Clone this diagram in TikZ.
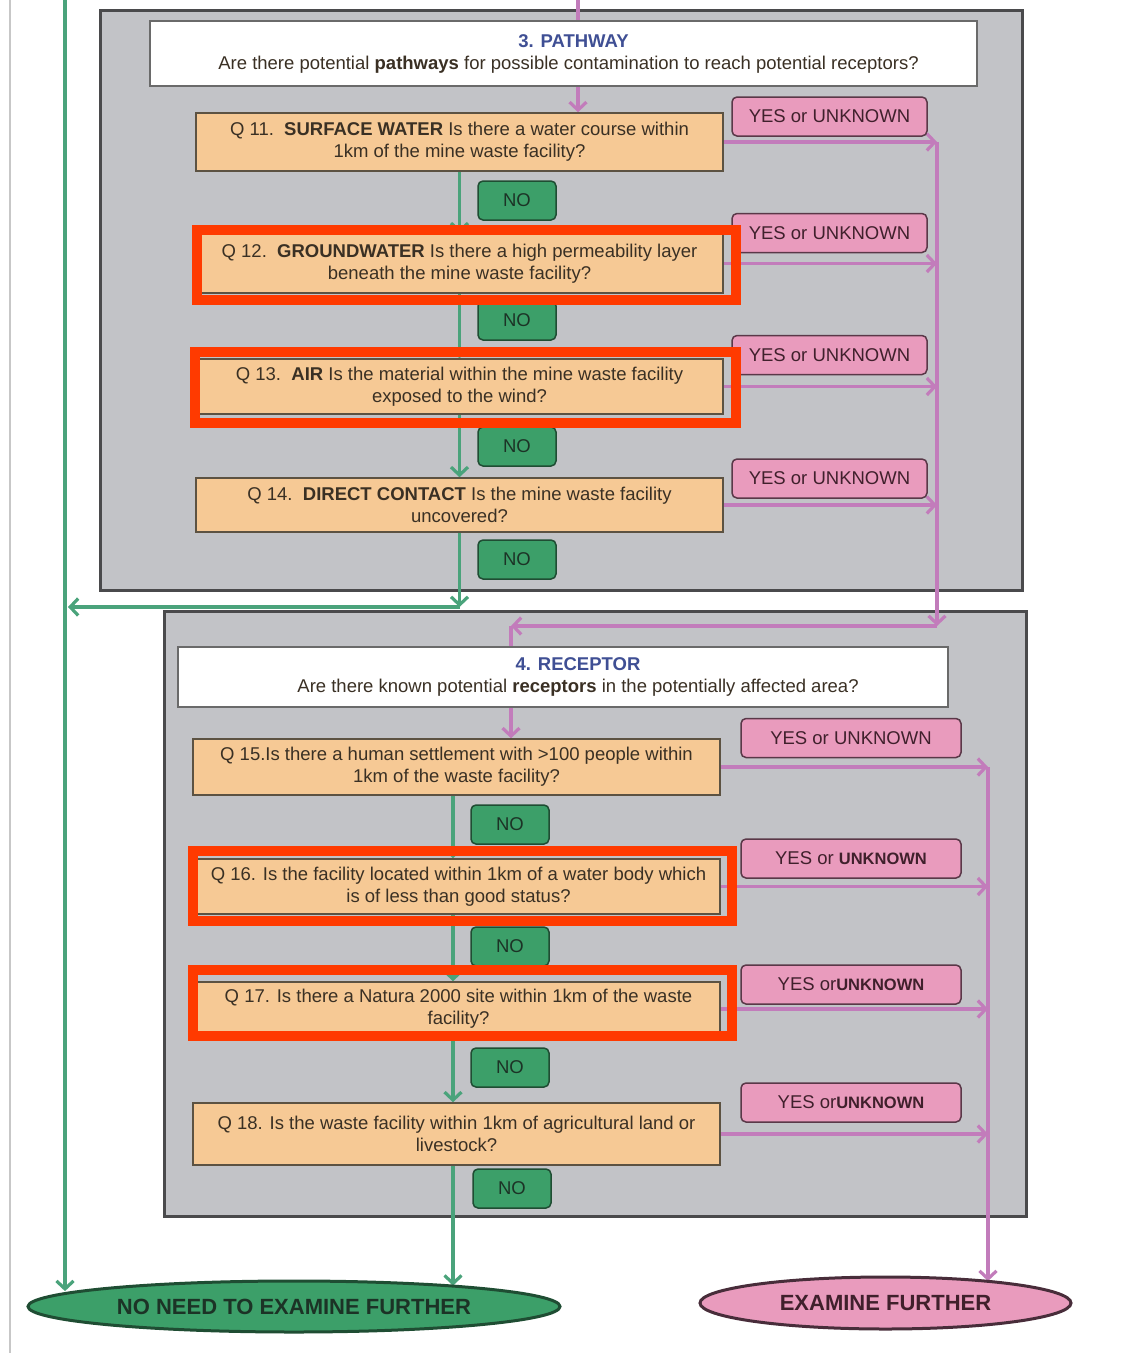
\documentclass[tikz,border=0pt]{standalone}
\usepackage{fontspec}
\setmainfont{Liberation Sans}
\usetikzlibrary{arrows.meta,shapes.geometric,backgrounds}

\definecolor{panelgray}{HTML}{C2C3C7}
\definecolor{panelline}{HTML}{4A4A4C}
\definecolor{headline}{HTML}{6A6A6A}
\definecolor{titleblue}{HTML}{3F4F94}
\definecolor{peach}{HTML}{F6C995}
\definecolor{qline}{HTML}{5C5242}
\definecolor{qtext}{HTML}{3A3024}
\definecolor{yespink}{HTML}{E99BBD}
\definecolor{yesedge}{HTML}{5A3848}
\definecolor{yestext}{HTML}{40202C}
\definecolor{linepink}{HTML}{C27CBB}
\definecolor{nogreen}{HTML}{3C9F69}
\definecolor{noedge}{HTML}{1F4D33}
\definecolor{notext}{HTML}{1C3326}
\definecolor{linegreen}{HTML}{4AA37B}
\definecolor{hired}{HTML}{FF3A00}

\newcommand\qsize{\fontsize{18.5}{22}\selectfont}
\newcommand\boldunk{\textbf{\fontsize{16.5}{20}\selectfont UNKNOWN}}

\tikzset{
  panel/.style={fill=panelgray, draw=panelline, line width=3pt},
  header/.style={fill=white, draw=headline, line width=1.5pt, inner sep=0pt,
    align=center, text=qtext, font=\qsize},
  question/.style={fill=peach, draw=qline, line width=1.5pt, inner sep=0pt,
    align=center, text=qtext, font=\qsize},
  yesbox/.style={fill=yespink, draw=yesedge, line width=1.5pt, rounded corners=5pt,
    minimum height=39pt, inner sep=0pt, text=yestext, font=\qsize},
  nobox/.style={fill=nogreen, draw=noedge, line width=1.5pt, rounded corners=5pt,
    minimum width=78pt, minimum height=39pt, inner sep=0pt, text=notext, font=\qsize},
  endnode/.style={ellipse, line width=3pt, inner sep=0pt,
    font=\fontsize{22}{26}\selectfont\bfseries},
  yesarrow/.style={draw=linepink, line width=3.2pt,
    -{Straight Barb[length=8pt,width=17pt]}},
  noarrow/.style={draw=linegreen, line width=3.2pt,
    -{Straight Barb[length=8pt,width=17pt]}},
  hilite/.style={draw=hired, line width=10pt},
  pageedge/.style={draw=black!22, line width=1.2pt}
}

\begin{document}
\begin{tikzpicture}[x=1pt, y=-1pt]
  \useasboundingbox (0,0) rectangle (1123,1353);

  % panels
  \begin{scope}[on background layer]
    \draw[pageedge] (10,0) -- (10,1353);
    \draw[panel] (100,10) rectangle (1022,590);
    \draw[panel] (164,611) rectangle (1026,1216);
  \end{scope}

  % 3. pathway
  \node[header, minimum width=827pt, minimum height=65pt] (pathhead) at (563.5,53.5)
    {\hspace*{20pt}\textcolor{titleblue}{\textbf{3. PATHWAY}}\\
     \hspace*{10pt}Are there potential \textbf{pathways} for possible contamination to reach potential receptors?};

  \node[question, minimum width=527pt, minimum height=58pt] (q11) at (459.5,142)
    {Q 11.\ \ \textbf{SURFACE WATER} Is there a water course within\\1km of the mine waste facility?};
  \node[question, minimum width=527pt, minimum height=59pt] (q12) at (459.5,263.5)
    {Q 12.\ \ \textbf{GROUNDWATER} Is there a high permeability layer\\beneath the mine waste facility?};
  \node[question, minimum width=527pt, minimum height=55pt] (q13) at (459.5,386.5)
    {Q 13.\ \ \textbf{AIR} Is the material within the mine waste facility\\exposed to the wind?};
  \node[question, minimum width=527pt, minimum height=54pt] (q14) at (459.5,505)
    {Q 14.\ \ \textbf{DIRECT CONTACT} Is the mine waste facility\\uncovered?};

  \node[yesbox, minimum width=195pt] (y11) at (829.5,116.5) {YES or UNKNOWN};
  \node[yesbox, minimum width=195pt] (y12) at (829.5,233) {YES or UNKNOWN};
  \node[yesbox, minimum width=195pt] (y13) at (829.5,355) {YES or UNKNOWN};
  \node[yesbox, minimum width=195pt] (y14) at (829.5,478.5) {YES or UNKNOWN};

  \node[nobox] (n11) at (517,200.5) {NO};
  \node[nobox] (n12) at (517,320.5) {NO};
  \node[nobox] (n13) at (517,446.5) {NO};
  \node[nobox] (n14) at (517,559.5) {NO};

  % 4. receptor
  \node[header, minimum width=770pt, minimum height=60pt] (rechead) at (563,677)
    {\hspace*{30pt}\textcolor{titleblue}{\textbf{4. RECEPTOR}}\\
     \hspace*{30pt}Are there known potential \textbf{receptors} in the potentially affected area?};

  \node[question, minimum width=527pt, minimum height=56pt] (q15) at (456.5,767)
    {Q 15.Is there a human settlement with >100 people within\\1km of the waste facility?};
  \node[question, minimum width=523pt, minimum height=55pt] (q16) at (458.5,886.5)
    {Q 16. Is the facility located within 1km of a water body which\\is of less than good status?};
  \node[question, minimum width=523pt, minimum height=54pt] (q17) at (458.5,1009)
    {Q 17. Is there a Natura 2000 site within 1km of the waste\\facility?};
  \node[question, minimum width=527pt, minimum height=62pt] (q18) at (456.5,1134)
    {Q 18. Is the waste facility within 1km of agricultural land or\\livestock?};

  \node[yesbox, minimum width=220pt] (y15) at (851,738) {YES or UNKNOWN};
  \node[yesbox, minimum width=220pt] (y16) at (851,858.5) {YES or \boldunk};
  \node[yesbox, minimum width=220pt] (y17) at (851,984.5) {YES or\boldunk};
  \node[yesbox, minimum width=220pt] (y18) at (851,1102.5) {YES or\boldunk};

  \node[nobox] (n15) at (510,824.5) {NO};
  \node[nobox] (n16) at (510,946.5) {NO};
  \node[nobox] (n17) at (510,1067.5) {NO};
  \node[nobox] (n18) at (512,1188.5) {NO};

  % outcomes
  \node[endnode, fill=nogreen, draw=noedge, text=notext,
    minimum width=532pt, minimum height=51pt] (noneed) at (294,1306.5)
    {NO NEED TO EXAMINE FURTHER};
  \node[endnode, fill=yespink, draw=yesedge!80!black, text=yestext,
    minimum width=371pt, minimum height=52pt] (examine) at (885.5,1303)
    {EXAMINE FURTHER};

  \coordinate (pin) at (578,0);
  \coordinate (pbus) at (937,0);
  \coordinate (pbusB) at (937,626);
  \coordinate (pturn) at (511,626);
  \coordinate (rbus) at (988,0);
  \coordinate (gtop) at (65,0);
  \coordinate (gjoin) at (459.5,607);
  \coordinate (gleft) at (68,607);
  \coordinate (gB) at (453,0);

  % connectors
  \begin{scope}[on background layer]
    \draw[yesarrow] (pin) -- (pin |- q11.north);
    \draw[yesarrow] (q11.east) -- (q11.east -| pbus);
    \draw[yesarrow] (q12.east) -- (q12.east -| pbus);
    \draw[yesarrow] (q13.east) -- (q13.east -| pbus);
    \draw[yesarrow] (q14.east) -- (q14.east -| pbus);
    \draw[yesarrow] (pbus |- q11.east) -- (pbusB);
    \draw[yesarrow] (pbusB) -- (pturn);
    \draw[yesarrow] (pturn) -- (pturn |- q15.north);

    \draw[yesarrow] (q15.east) -- (q15.east -| rbus);
    \draw[yesarrow] (q16.east) -- (q16.east -| rbus);
    \draw[yesarrow] (q17.east) -- (q17.east -| rbus);
    \draw[yesarrow] (q18.east) -- (q18.east -| rbus);
    \draw[yesarrow] (rbus |- q15.east) -- (rbus |- examine.11.9);

    \draw[noarrow] (q11.south) -- (q12.north);
    \draw[noarrow] (q12.south) -- (q13.north);
    \draw[noarrow] (q13.south) -- (q14.north);
    \draw[noarrow] (q14.south) -- (gjoin);
    \draw[noarrow] (gjoin) -- (gleft);
    \draw[noarrow] (gtop) -- (gtop |- noneed.176.8);

    \draw[noarrow] (q15.south -| gB) -- (q16.north -| gB);
    \draw[noarrow] (q16.south -| gB) -- (q17.north -| gB);
    \draw[noarrow] (q17.south -| gB) -- (q18.north -| gB);
    \draw[noarrow] (q18.south -| gB) -- (gB |- noneed.7.3);
  \end{scope}

  % highlights
  \draw[hilite] (197,230) rectangle (736,300);
  \draw[hilite] (195,352) rectangle (736,423);
  \draw[hilite] (193,851) rectangle (732,921);
  \draw[hilite] (193,970) rectangle (732,1036);
\end{tikzpicture}
\end{document}
